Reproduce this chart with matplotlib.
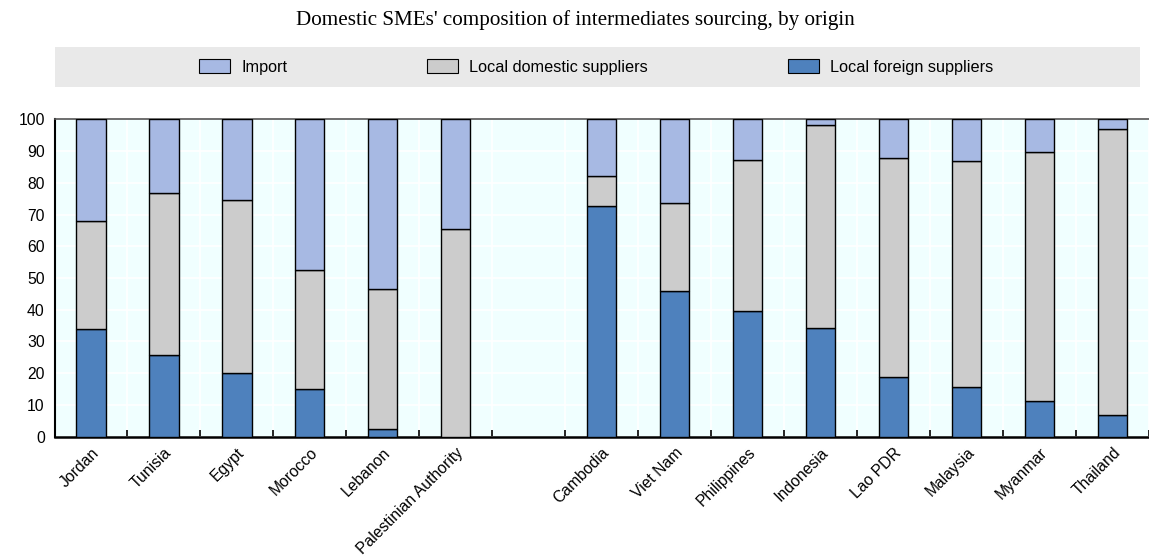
import matplotlib
matplotlib.use("Agg")
import matplotlib.pyplot as plt
from matplotlib.patches import Rectangle, Patch
import numpy as np

countries = ["Jordan", "Tunisia", "Egypt", "Morocco", "Lebanon", "Palestinian Authority", "",
             "Cambodia", "Viet Nam", "Philippines", "Indonesia", "Lao PDR", "Malaysia", "Myanmar", "Thailand"]
foreign = [33.9, 25.7, 20.2, 15.1, 2.3, 0.0, np.nan, 72.7, 46.0, 39.6, 34.1, 18.8, 15.7, 11.2, 6.8]
domestic = [34.0, 51.0, 54.4, 37.5, 44.3, 65.4, np.nan, 9.4, 27.6, 47.7, 64.2, 69.0, 71.2, 78.5, 90.0]
imports = [32.1, 23.3, 25.4, 47.4, 53.4, 34.6, np.nan, 17.9, 26.4, 12.7, 1.7, 12.2, 13.1, 10.3, 3.2]

c_import = "#A7B9E3"
c_dom = "#CCCCCC"
c_for = "#4E81BD"

W, H = 1149, 558
fig = plt.figure(figsize=(W / 100, H / 100), dpi=100)
plt.rcParams['font.family'] = ['Liberation Sans', 'DejaVu Sans']

ax = fig.add_axes([54.5 / W, (H - 436.7) / H, 1 - 54.5 / W, (436.7 - 119.3) / H])
ax.set_facecolor("#F0FFFF")

x = np.arange(len(countries))
f = np.array(foreign)
d = np.array(domestic)
im = np.array(imports)
bw = 0.4
ax.bar(x, f, bw, color=c_for, edgecolor="black", linewidth=1, zorder=3)
ax.bar(x, d, bw, bottom=f, color=c_dom, edgecolor="black", linewidth=1, zorder=3)
ax.bar(x, im, bw, bottom=f + d, color=c_import, edgecolor="black", linewidth=1, zorder=3)

ax.set_xlim(-0.5, -0.5 + (W - 54.5) / 73.7)
ax.set_ylim(0, 100)
ax.set_yticks(np.arange(0, 101, 10))
ax.yaxis.grid(True, color="white", linewidth=1.2, zorder=0)
for b in np.arange(0.5, len(countries), 1.0):
    ax.axvline(b, color="white", linewidth=1.2, zorder=0)
ax.set_axisbelow(True)

ax.set_xticks(x)
ax.set_xticklabels(countries, rotation=45, ha="right", rotation_mode="anchor", fontsize=11.3)
ax.tick_params(axis="x", length=0, pad=6)
ax.set_xticks(np.arange(0.5, len(countries), 1.0), minor=True)
ax.tick_params(axis="x", which="minor", direction="in", length=5, width=1.2, color="black")
ax.tick_params(axis="y", length=0, labelsize=11.3, pad=7)

ax.spines["right"].set_visible(False)
ax.spines["top"].set_color("#555555")
ax.spines["top"].set_linewidth(1.2)
ax.spines["bottom"].set_linewidth(1.8)
ax.spines["left"].set_linewidth(1.5)

# legend background band
fig.patches.append(Rectangle((55 / W, (H - 87) / H), (1140 - 55) / W, 40 / H,
                             transform=fig.transFigure, facecolor="#E9E9E9", edgecolor="none", zorder=0))
handles = [Patch(facecolor=c_import, edgecolor="black", linewidth=0.8),
           Patch(facecolor=c_dom, edgecolor="black", linewidth=0.8),
           Patch(facecolor=c_for, edgecolor="black", linewidth=0.8)]
labels = ["Import", "Local domestic suppliers", "Local foreign suppliers"]
fig.legend(handles, labels, ncol=3, loc="center", bbox_to_anchor=(596 / W, (H - 67) / H),
           frameon=False, fontsize=11.7, handlelength=1.9, handleheight=0.9,
           handletextpad=0.7, columnspacing=8.6)

fig.text(575 / W, (H - 20) / H, "Domestic SMEs' composition of intermediates sourcing, by origin",
         ha="center", va="center", fontsize=15.2, family=["Liberation Serif", "DejaVu Serif"])

fig.savefig("out.png", dpi=100)
